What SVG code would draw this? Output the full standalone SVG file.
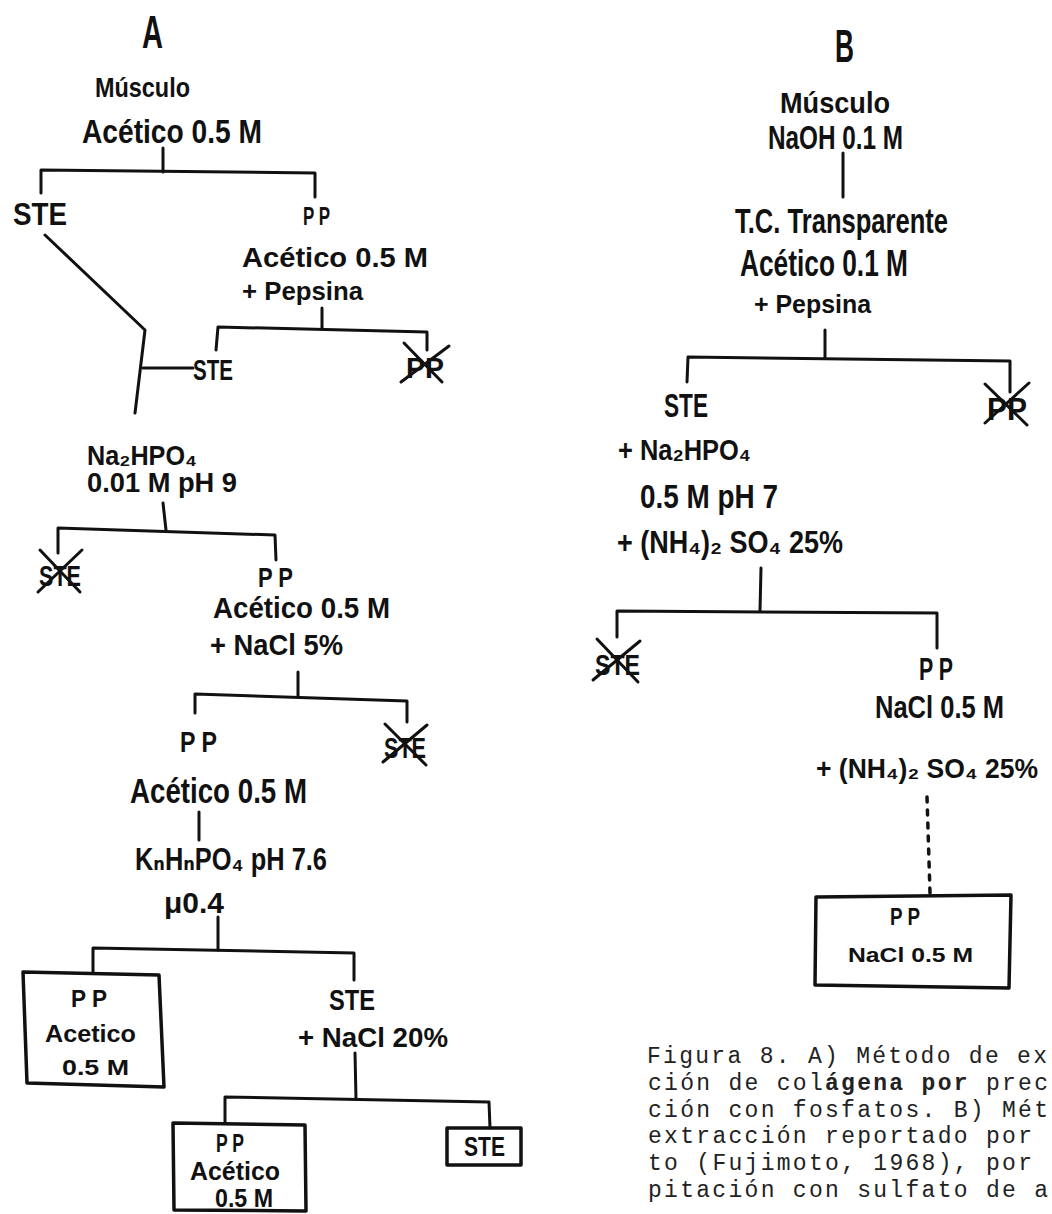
<svg xmlns="http://www.w3.org/2000/svg" width="1052" height="1214" viewBox="0 0 1052 1214">
<style>
.t{font-family:"Liberation Sans Narrow","Liberation Sans","DejaVu Sans",Arial,sans-serif;font-weight:bold;fill:#111}
.c{fill:none;stroke:#111;stroke-width:3;stroke-linecap:round;stroke-linejoin:round}
.d{fill:none;stroke:#111;stroke-width:3.5;stroke-linecap:round;stroke-dasharray:5 8}
.box{fill:none;stroke:#111;stroke-width:3.5;stroke-linejoin:round}
.x{stroke:#111;stroke-width:3;stroke-linecap:round}
.cap{font-family:"Liberation Mono","Courier New",monospace;font-size:23px;fill:#222}
.b{font-weight:bold}
</style>
<rect width="1052" height="1214" fill="#fff"/>

<!-- Connectors -->
<g id="connectors">
  <!-- A -->
  <path class="c" d="M163,148 L163,172"/>
  <path class="c" d="M41,193 L41,170 L315,173 L315,197"/>
  <path class="c" d="M45,235 L145,330 L135,413"/>
  <path class="c" d="M143,368 L193,368"/>
  <path class="c" d="M322,308 L322,329"/>
  <path class="c" d="M216,350 L218,327 L427,332 L427,350"/>
  <path class="c" d="M163,503 L166,530"/>
  <path class="c" d="M58,553 L58,528 L275,535 L276,560"/>
  <path class="c" d="M298,672 L298,697"/>
  <path class="c" d="M195,713 L195,694 L407,701 L407,722"/>
  <path class="c" d="M199,812 L199,840"/>
  <path class="c" d="M218,917 L218,950"/>
  <path class="c" d="M93,972 L93,948 L354,953 L354,980"/>
  <path class="c" d="M355,1053 L356,1099"/>
  <path class="c" d="M225,1123 L225,1097 L489,1102 L490,1128"/>
  <!-- B -->
  <path class="c" d="M843,153 L843,197"/>
  <path class="c" d="M825,330 L825,357"/>
  <path class="c" d="M687,382 L688,357 L1010,361 L1010,392"/>
  <path class="c" d="M761,568 L760,611"/>
  <path class="c" d="M617,637 L617,611 L937,613 L937,648"/>
  <path class="d" d="M927,797 L930,893"/>
</g>

<!-- A column -->
<g id="title-A"><text class="t" x="142" y="48" font-size="46" textLength="21" lengthAdjust="spacingAndGlyphs">A</text></g>
<g id="a-musculo">
  <text class="t" x="95" y="97" font-size="28" textLength="95" lengthAdjust="spacingAndGlyphs">Músculo</text>
  <text class="t" x="82" y="143" font-size="34" textLength="180" lengthAdjust="spacingAndGlyphs">Acético 0.5 M</text>
</g>
<g id="a-ste1"><text class="t" x="13" y="225" font-size="31" textLength="54" lengthAdjust="spacingAndGlyphs">STE</text></g>
<g id="a-pp1">
  <text class="t" x="303" y="225" font-size="25" textLength="27" lengthAdjust="spacingAndGlyphs">P P</text>
  <text class="t" x="242" y="267" font-size="28" textLength="186" lengthAdjust="spacingAndGlyphs">Acético 0.5 M</text>
  <text class="t" x="242" y="300" font-size="26" textLength="121" lengthAdjust="spacingAndGlyphs">+ Pepsina</text>
</g>
<g id="a-ste2"><text class="t" x="193" y="380" font-size="30" textLength="40" lengthAdjust="spacingAndGlyphs">STE</text></g>
<g id="a-pp-x1">
  <text class="t" x="406" y="378" font-size="30" textLength="38" lengthAdjust="spacingAndGlyphs">PP</text>
  <line class="x" x1="404" y1="343" x2="442" y2="382"/>
  <line class="x" x1="449" y1="346" x2="401" y2="382"/>
</g>
<g id="a-na2hpo4">
  <text class="t" x="87" y="465" font-size="28" textLength="110" lengthAdjust="spacingAndGlyphs">Na₂HPO₄</text>
  <text class="t" x="87" y="492" font-size="27" textLength="150" lengthAdjust="spacingAndGlyphs">0.01 M  pH 9</text>
</g>
<g id="a-ste-x1">
  <text class="t" x="39" y="586" font-size="30" textLength="42" lengthAdjust="spacingAndGlyphs">STE</text>
  <line class="x" x1="40" y1="550" x2="80" y2="592"/>
  <line class="x" x1="82" y1="550" x2="38" y2="592"/>
</g>
<g id="a-pp2">
  <text class="t" x="258" y="587" font-size="28" textLength="35" lengthAdjust="spacingAndGlyphs">P P</text>
  <text class="t" x="213" y="618" font-size="29" textLength="177" lengthAdjust="spacingAndGlyphs">Acético 0.5 M</text>
  <text class="t" x="210" y="655" font-size="30" textLength="133" lengthAdjust="spacingAndGlyphs">+ NaCl 5%</text>
</g>
<g id="a-pp3">
  <text class="t" x="180" y="752" font-size="30" textLength="37" lengthAdjust="spacingAndGlyphs">P P</text>
  <text class="t" x="130" y="803" font-size="35" textLength="177" lengthAdjust="spacingAndGlyphs">Acético 0.5 M</text>
</g>
<g id="a-ste-x2">
  <text class="t" x="384" y="758" font-size="30" textLength="42" lengthAdjust="spacingAndGlyphs">STE</text>
  <line class="x" x1="385" y1="724" x2="426" y2="765"/>
  <line class="x" x1="427" y1="725" x2="383" y2="762"/>
</g>
<g id="a-kpo4">
  <text class="t" x="135" y="870" font-size="31" textLength="192" lengthAdjust="spacingAndGlyphs">KₙHₙPO₄  pH 7.6</text>
  <text class="t" x="164" y="913" font-size="30" textLength="60" lengthAdjust="spacingAndGlyphs">μ0.4</text>
</g>
<g id="a-box1">
  <path class="box" d="M23,972 L159,975 L164,1087 L27,1083 Z"/>
  <text class="t" x="71" y="1007" font-size="24" textLength="36" lengthAdjust="spacingAndGlyphs">P P</text>
  <text class="t" x="45" y="1042" font-size="24" textLength="91" lengthAdjust="spacingAndGlyphs">Acetico</text>
  <text class="t" x="62" y="1075" font-size="22" textLength="67" lengthAdjust="spacingAndGlyphs">0.5 M</text>
</g>
<g id="a-ste3">
  <text class="t" x="329" y="1010" font-size="30" textLength="46" lengthAdjust="spacingAndGlyphs">STE</text>
  <text class="t" x="298" y="1047" font-size="28" textLength="150" lengthAdjust="spacingAndGlyphs">+ NaCl 20%</text>
</g>
<g id="a-box2">
  <path class="box" d="M173,1123 L305,1125 L306,1211 L174,1210 Z"/>
  <text class="t" x="216" y="1152" font-size="26" textLength="28" lengthAdjust="spacingAndGlyphs">P P</text>
  <text class="t" x="190" y="1180" font-size="25" textLength="90" lengthAdjust="spacingAndGlyphs">Acético</text>
  <text class="t" x="215" y="1207" font-size="25" textLength="58" lengthAdjust="spacingAndGlyphs">0.5 M</text>
</g>
<g id="a-box3">
  <rect class="box" x="447" y="1128" width="74" height="37"/>
  <text class="t" x="464" y="1156" font-size="28" textLength="41" lengthAdjust="spacingAndGlyphs">STE</text>
</g>

<!-- B column -->
<g id="title-B"><text class="t" x="835" y="62" font-size="46" textLength="19" lengthAdjust="spacingAndGlyphs">B</text></g>
<g id="b-musculo">
  <text class="t" x="780" y="113" font-size="30" textLength="110" lengthAdjust="spacingAndGlyphs">Músculo</text>
  <text class="t" x="768" y="149" font-size="34" textLength="135" lengthAdjust="spacingAndGlyphs">NaOH 0.1 M</text>
</g>
<g id="b-tc">
  <text class="t" x="735" y="233" font-size="35" textLength="213" lengthAdjust="spacingAndGlyphs">T.C. Transparente</text>
  <text class="t" x="740" y="276" font-size="37" textLength="168" lengthAdjust="spacingAndGlyphs">Acético 0.1 M</text>
  <text class="t" x="754" y="313" font-size="26" textLength="117" lengthAdjust="spacingAndGlyphs">+ Pepsina</text>
</g>
<g id="b-ste1">
  <text class="t" x="664" y="417" font-size="33" textLength="44" lengthAdjust="spacingAndGlyphs">STE</text>
  <text class="t" x="618" y="460" font-size="30" textLength="133" lengthAdjust="spacingAndGlyphs">+ Na₂HPO₄</text>
  <text class="t" x="640" y="508" font-size="34" textLength="138" lengthAdjust="spacingAndGlyphs">0.5 M  pH 7</text>
  <text class="t" x="617" y="553" font-size="32" textLength="226" lengthAdjust="spacingAndGlyphs">+ (NH₄)₂ SO₄ 25%</text>
</g>
<g id="b-pp-x1">
  <text class="t" x="987" y="420" font-size="32" textLength="40" lengthAdjust="spacingAndGlyphs">PP</text>
  <line class="x" x1="985" y1="384" x2="1027" y2="425"/>
  <line class="x" x1="1029" y1="383" x2="985" y2="423"/>
</g>
<g id="b-ste-x1">
  <text class="t" x="595" y="675" font-size="30" textLength="45" lengthAdjust="spacingAndGlyphs">STE</text>
  <line class="x" x1="597" y1="639" x2="638" y2="682"/>
  <line class="x" x1="640" y1="641" x2="593" y2="680"/>
</g>
<g id="b-pp1">
  <text class="t" x="919" y="680" font-size="31" textLength="34" lengthAdjust="spacingAndGlyphs">P P</text>
  <text class="t" x="875" y="718" font-size="32" textLength="129" lengthAdjust="spacingAndGlyphs">NaCl 0.5 M</text>
  <text class="t" x="816" y="778" font-size="28" textLength="222" lengthAdjust="spacingAndGlyphs">+ (NH₄)₂ SO₄ 25%</text>
</g>
<g id="b-box">
  <path class="box" d="M816,897 L1011,895 L1009,988 L815,985 Z"/>
  <text class="t" x="890" y="925" font-size="24" textLength="30" lengthAdjust="spacingAndGlyphs">P P</text>
  <text class="t" x="848" y="962" font-size="21" textLength="125" lengthAdjust="spacingAndGlyphs">NaCl  0.5 M</text>
</g>

<!-- Caption -->
<g id="caption">
  <text class="cap" x="647" y="1063" textLength="400" lengthAdjust="spacing">Figura 8. A) Método de ex</text>
  <text class="cap" x="648" y="1090" textLength="400" lengthAdjust="spacing">ción de col<tspan class="b">ágena por</tspan> prec</text>
  <text class="cap" x="648" y="1117" textLength="400" lengthAdjust="spacing">ción con fosfatos. B) Mét</text>
  <text class="cap" x="648" y="1143" textLength="384" lengthAdjust="spacing">extracción reportado por</text>
  <text class="cap" x="648" y="1170" textLength="384" lengthAdjust="spacing">to (Fujimoto, 1968), por</text>
  <text class="cap" x="648" y="1197" textLength="400" lengthAdjust="spacing">pitación con sulfato de a</text>
</g>
</svg>
